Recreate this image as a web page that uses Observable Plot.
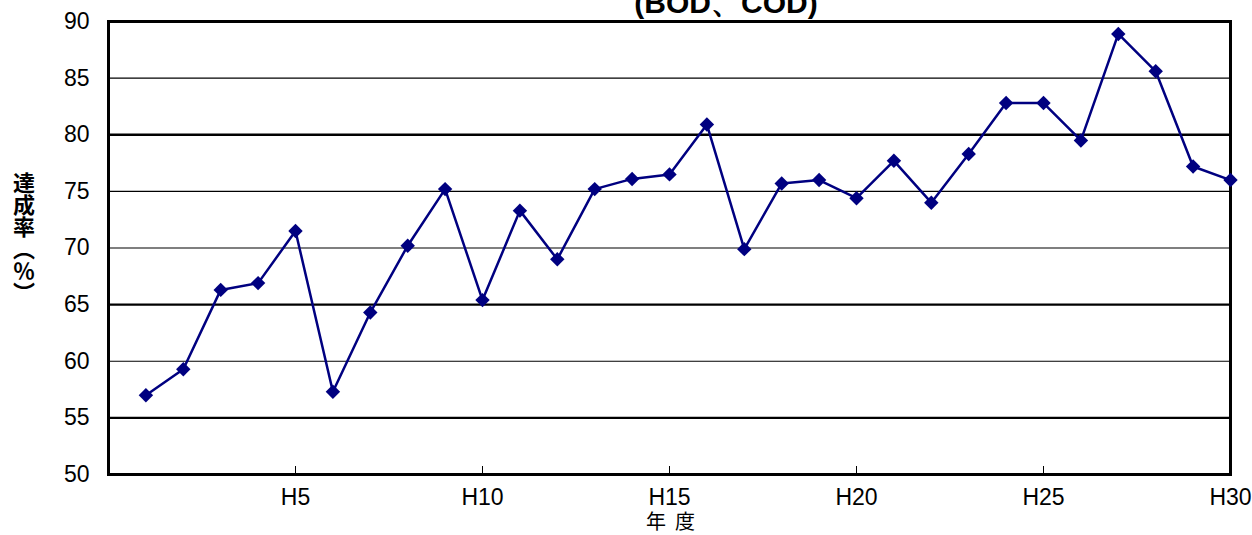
<!DOCTYPE html>
<html>
<head>
<meta charset="utf-8">
<script src="https://cdn.jsdelivr.net/npm/d3@7"></script>
<script src="https://cdn.jsdelivr.net/npm/@observablehq/plot@0.6"></script>
<style>
  html, body { margin: 0; padding: 0; background: #fff; overflow: hidden; }
  #wrap { position: relative; width: 1252px; height: 535px; }
  #title { position: absolute; left: 0; width: 1452px; text-align: center; top: -17px;
           font-family: "Liberation Sans", Arial, sans-serif; font-size: 30px; font-weight: bold; color: #000; }
  #ylab { position: absolute; left: 13px; top: 172px; writing-mode: vertical-rl;
          font-family: "Noto Sans CJK JP", sans-serif; font-size: 22px; font-weight: bold; line-height: 1; }
  #xlab { position: absolute; left: 646px; top: 511px; height: 22px; overflow: visible;
          font-family: "Noto Sans CJK JP", sans-serif; font-size: 20px; line-height: 20px; }
</style>
</head>
<body>
<div id="wrap">
  <div id="chart"></div>
  <div id="title">(BOD、COD)</div>
  <div id="ylab">達成率（％）</div>
  <div id="xlab">年&nbsp;&nbsp;度</div>
</div>
<script>
// Fiscal years H1..H30
const years = [1,2,3,4,5,6,7,8,9,10,11,12,13,14,15,16,17,18,19,20,21,22,23,24,25,26,27,28,29,30];
// Achievement rate (%)
const rates = [57.0,59.3,66.3,66.9,71.5,57.3,64.3,70.2,75.2,65.4,73.3,69.0,75.2,76.1,76.5,80.9,69.9,75.7,76.0,74.4,77.7,74.0,78.3,82.8,82.8,79.5,88.9,85.6,77.2,76.0];
const xTicks = [5,10,15,20,25,30];
const xTickLabels = ["H5","H10","H15","H20","H25","H30"];
const yTicks = [50,55,60,65,70,75,80,85,90];
const thinGrid = [60,70,75,85];
const thickGrid = [55,65,80];

const data = years.map((y,i) => ({year: y, rate: rates[i]}));

const chart = Plot.plot({
  width: 1252,
  height: 535,
  marginLeft: 108,
  marginRight: 22,
  marginTop: 21,
  marginBottom: 61,
  style: {fontFamily: "'Liberation Sans Narrow', 'Liberation Sans', Arial, sans-serif", background: "#fff", color: "#000"},
  x: {domain: [0,30]},
  y: {domain: [50,90]},
  marks: [
    Plot.ruleY(thinGrid, {y: d => d, stroke: "#000", strokeWidth: 1.2}),
    Plot.ruleY(thickGrid, {y: d => d, stroke: "#000", strokeWidth: 2.4}),
    Plot.ruleX(xTicks, {x: d => d, stroke: "#000", strokeWidth: 1, insetTop: 445}),
    Plot.frame({stroke: "#000", strokeWidth: 3}),
    Plot.axisY({ticks: yTicks, tickSize: 0, tickPadding: 19, fontSize: 23, label: null}),
    Plot.axisX({ticks: xTicks, tickSize: 0, tickPadding: 14, fontSize: 23, label: null,
                tickFormat: d => xTickLabels[xTicks.indexOf(d)]}),
    Plot.line(data, {x: "year", y: "rate", stroke: "#000080", strokeWidth: 2.5}),
    Plot.dot(data, {x: "year", y: "rate", symbol: "diamond2", r: 6.5, fill: "#000080", stroke: "none"})
  ]
});
document.getElementById("chart").appendChild(chart);
</script>
</body>
</html>
